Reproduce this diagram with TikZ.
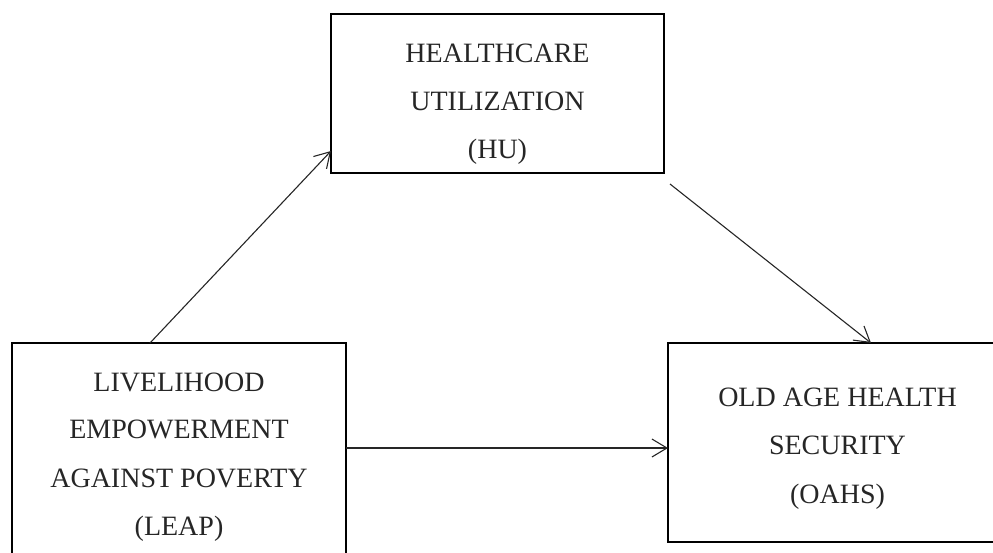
\documentclass[tikz,border=0pt]{standalone}
\usepackage{fontspec}
\setmainfont{Liberation Serif}
\usetikzlibrary{arrows.meta}
\tikzset{
  box/.style={draw=black, line width=2pt, inner sep=0pt, outer sep=0pt},
  txt/.style={anchor=base, inner sep=0pt, text=black!85, font=\fontsize{28}{32}\selectfont},
  arr/.style={draw=black!85, line width=1.1pt, -{Straight Barb[length=15pt,width=18pt,line width=1.1pt]}}
}
\begin{document}
\begin{tikzpicture}[x=1pt,y=-1pt]
\useasboundingbox (0,0) rectangle (993,552);
% boxes
\node[box, minimum width=333pt, minimum height=159pt] (hu) at (497.5,93.5) {};
\node[box, minimum width=334pt, minimum height=232pt] (leap) at (179,459) {};
\node[box, minimum width=339pt, minimum height=199pt] (oahs) at (837.5,442.5) {};
% texts
\node[txt] (hu1) at (497.5,62) {HEALTHCARE};
\node[txt] (hu2) at (497.5,110) {UTILIZATION};
\node[txt] (hu3) at (497.5,158) {(HU)};
\node[txt] (le1) at (179,391) {LIVELIHOOD};
\node[txt] (le2) at (179,438) {EMPOWERMENT};
\node[txt] (le3) at (179,487) {AGAINST POVERTY};
\node[txt] (le4) at (179,535) {(LEAP)};
\node[txt] (oa1) at (837.5,406) {OLD AGE HEALTH};
\node[txt] (oa2) at (837.5,454) {SECURITY};
\node[txt] (oa3) at (837.5,503) {(OAHS)};
% connectors
\draw[arr] ([xshift=138pt]leap.north west) -- ([yshift=22pt]hu.south west);
\draw[arr] ([xshift=6pt,yshift=-11pt]hu.south east) -- ([xshift=203pt]oahs.north west);
\coordinate (m) at ([yshift=-5.5pt]oahs.west);
\draw[arr] (leap.east |- m) -- (m);
\end{tikzpicture}
\end{document}
